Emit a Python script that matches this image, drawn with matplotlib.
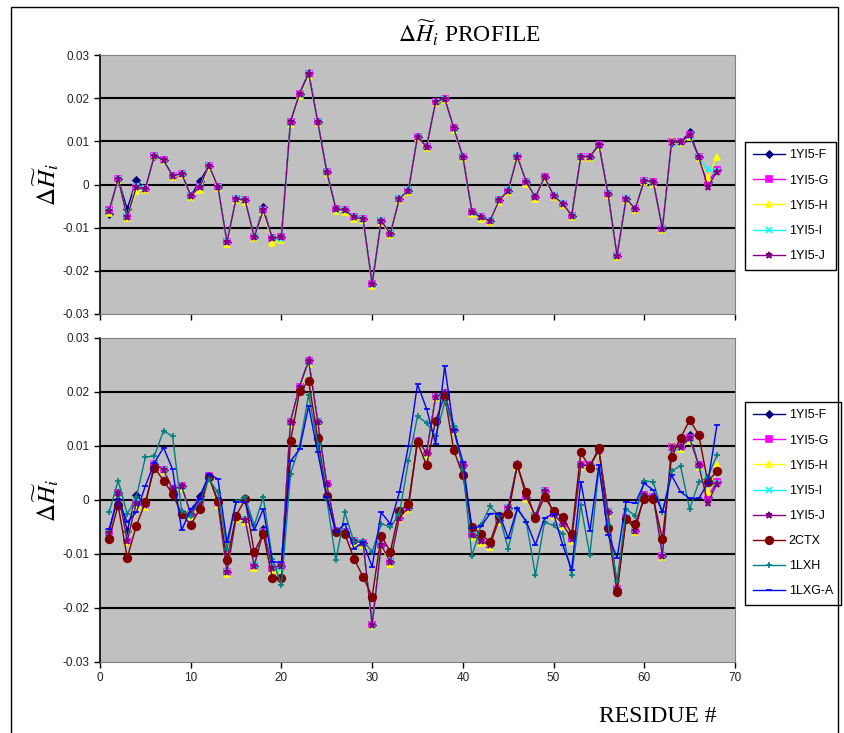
import matplotlib
matplotlib.use('Agg')
import matplotlib.pyplot as plt
from matplotlib.patches import Rectangle

plt.rcParams['mathtext.fontset'] = 'stix'

residue = list(range(1, 69))

yi5_f = [-0.0068, 0.0013, -0.0057, 0.0010, -0.0010, 0.0067, 0.0056, 0.0020, 0.0025, -0.0026,
         0.0007, 0.0044, -0.0006, -0.0134, -0.0033, -0.0037, -0.0122, -0.0053, -0.0125, -0.0122,
         0.0145, 0.0210, 0.0259, 0.0145, 0.0029, -0.0057, -0.0060, -0.0076, -0.0080, -0.0231,
         -0.0084, -0.0115, -0.0033, -0.0014, 0.0110, 0.0087, 0.0191, 0.0199, 0.0130, 0.0064,
         -0.0064, -0.0076, -0.0084, -0.0037, -0.0014, 0.0066, 0.0005, -0.0030, 0.0017, -0.0026,
         -0.0045, -0.0072, 0.0064, 0.0064, 0.0093, -0.0022, -0.0165, -0.0033, -0.0057, 0.0009,
         0.0005, -0.0103, 0.0098, 0.0098, 0.0121, 0.0064, 0.0005, 0.0033]
yi5_g = [-0.0060, 0.0013, -0.0076, -0.0006, -0.0010, 0.0067, 0.0056, 0.0020, 0.0025, -0.0026,
         -0.0006, 0.0044, -0.0006, -0.0134, -0.0033, -0.0037, -0.0122, -0.0060, -0.0125, -0.0122,
         0.0145, 0.0210, 0.0257, 0.0145, 0.0029, -0.0057, -0.0060, -0.0076, -0.0080, -0.0231,
         -0.0084, -0.0115, -0.0033, -0.0014, 0.0110, 0.0087, 0.0191, 0.0199, 0.0130, 0.0064,
         -0.0064, -0.0076, -0.0084, -0.0037, -0.0014, 0.0064, 0.0005, -0.0030, 0.0017, -0.0026,
         -0.0045, -0.0072, 0.0064, 0.0064, 0.0091, -0.0022, -0.0165, -0.0033, -0.0057, 0.0009,
         0.0005, -0.0103, 0.0098, 0.0098, 0.0114, 0.0064, 0.0005, 0.0033]
yi5_h = [-0.0065, 0.0010, -0.0078, -0.0015, -0.0013, 0.0065, 0.0054, 0.0018, 0.0022, -0.0029,
         -0.0012, 0.0040, -0.0009, -0.0137, -0.0036, -0.0040, -0.0125, -0.0063, -0.0135, -0.0128,
         0.0141, 0.0205, 0.0252, 0.0142, 0.0026, -0.0061, -0.0063, -0.0079, -0.0083, -0.0234,
         -0.0087, -0.0118, -0.0036, -0.0017, 0.0107, 0.0084, 0.0188, 0.0196, 0.0127, 0.0061,
         -0.0068, -0.0079, -0.0087, -0.0040, -0.0017, 0.0061, 0.0002, -0.0033, 0.0014, -0.0029,
         -0.0048, -0.0075, 0.0061, 0.0061, 0.0088, -0.0025, -0.0168, -0.0036, -0.0060, 0.0006,
         0.0002, -0.0106, 0.0100, 0.0095, 0.0111, 0.0061, 0.0015, 0.0064]
yi5_i = [-0.0062, 0.0012, -0.0074, -0.0004, -0.0009, 0.0066, 0.0055, 0.0019, 0.0024, -0.0027,
         -0.0005, 0.0043, -0.0005, -0.0133, -0.0032, -0.0036, -0.0121, -0.0059, -0.0124, -0.0127,
         0.0143, 0.0208, 0.0255, 0.0144, 0.0028, -0.0058, -0.0059, -0.0075, -0.0079, -0.0233,
         -0.0083, -0.0114, -0.0032, -0.0013, 0.0109, 0.0086, 0.0190, 0.0198, 0.0129, 0.0063,
         -0.0065, -0.0075, -0.0083, -0.0036, -0.0013, 0.0065, 0.0006, -0.0029, 0.0016, -0.0025,
         -0.0044, -0.0073, 0.0063, 0.0063, 0.0090, -0.0023, -0.0166, -0.0032, -0.0056, 0.0008,
         0.0004, -0.0104, 0.0097, 0.0097, 0.0113, 0.0063, 0.0035, 0.0032]
yi5_j = [-0.0061, 0.0013, -0.0076, -0.0006, -0.0010, 0.0067, 0.0056, 0.0020, 0.0025, -0.0026,
         -0.0006, 0.0044, -0.0006, -0.0134, -0.0033, -0.0037, -0.0122, -0.0060, -0.0125, -0.0122,
         0.0145, 0.0210, 0.0257, 0.0145, 0.0029, -0.0057, -0.0060, -0.0076, -0.0080, -0.0231,
         -0.0084, -0.0115, -0.0033, -0.0014, 0.0110, 0.0087, 0.0191, 0.0199, 0.0130, 0.0064,
         -0.0064, -0.0076, -0.0084, -0.0037, -0.0014, 0.0064, 0.0005, -0.0030, 0.0017, -0.0026,
         -0.0045, -0.0072, 0.0064, 0.0064, 0.0091, -0.0022, -0.0165, -0.0033, -0.0057, 0.0009,
         0.0005, -0.0103, 0.0098, 0.0098, 0.0114, 0.0064, -0.0005, 0.0030]
ctx2 = [-0.0072, -0.0010, -0.0107, -0.0048, -0.0004, 0.0060, 0.0036, 0.0011, -0.0026, -0.0046,
        -0.0017, 0.0042, -0.0001, -0.0112, -0.0029, 0.0001, -0.0096, -0.0063, -0.0145, -0.0145,
        0.0109, 0.0201, 0.0220, 0.0115, 0.0008, -0.0060, -0.0063, -0.0109, -0.0142, -0.0179,
        -0.0066, -0.0096, -0.0020, -0.0007, 0.0107, 0.0064, 0.0147, 0.0193, 0.0092, 0.0046,
        -0.0050, -0.0063, -0.0078, -0.0029, -0.0026, 0.0064, 0.0014, -0.0033, 0.0006, -0.0021,
        -0.0031, -0.0063, 0.0088, 0.0060, 0.0097, -0.0052, -0.0170, -0.0035, -0.0044, 0.0002,
        0.0002, -0.0072, 0.0079, 0.0115, 0.0148, 0.0121, 0.0033, 0.0054]
lxh = [-0.0023, 0.0036, -0.0026, 0.0005, 0.0079, 0.0082, 0.0128, 0.0118, -0.0020, -0.0030,
       0.0000, 0.0039, 0.0014, -0.0090, -0.0003, 0.0005, -0.0047, 0.0005, -0.0109, -0.0158,
       0.0048, 0.0100, 0.0195, 0.0103, 0.0002, -0.0112, -0.0023, -0.0078, -0.0075, -0.0096,
       -0.0044, -0.0050, -0.0026, 0.0072, 0.0155, 0.0143, 0.0118, 0.0181, 0.0137, 0.0057,
       -0.0104, -0.0046, -0.0012, -0.0029, -0.0090, -0.0017, -0.0041, -0.0139, -0.0041, -0.0047,
       -0.0063, -0.0139, -0.0010, -0.0102, 0.0058, -0.0047, -0.0150, -0.0017, -0.0029, 0.0036,
       0.0033, -0.0023, 0.0054, 0.0063, -0.0017, 0.0033, 0.0042, 0.0083]
lxg_a = [-0.0053, 0.0002, -0.0041, -0.0023, 0.0026, 0.0069, 0.0097, 0.0057, -0.0056, -0.0017,
         0.0002, 0.0048, 0.0039, -0.0078, -0.0004, -0.0004, -0.0056, -0.0017, -0.0115, -0.0115,
         0.0072, 0.0094, 0.0174, 0.0088, 0.0005, -0.0060, -0.0044, -0.0090, -0.0078, -0.0124,
         -0.0023, -0.0044, 0.0014, 0.0100, 0.0214, 0.0169, 0.0104, 0.0248, 0.0130, 0.0071,
         -0.0052, -0.0049, -0.0025, -0.0025, -0.0071, -0.0015, -0.0040, -0.0083, -0.0034, -0.0025,
         -0.0083, -0.0129, 0.0034, -0.0058, 0.0065, -0.0064, -0.0107, -0.0003, -0.0006, 0.0031,
         0.0018, -0.0023, 0.0046, 0.0015, 0.0003, 0.0003, 0.0031, 0.0138]

yi5_series = [
    ('1YI5-F', yi5_f, '#000080', 'D', 3.5),
    ('1YI5-G', yi5_g, '#FF00FF', 's', 4.5),
    ('1YI5-H', yi5_h, '#FFFF00', '^', 5),
    ('1YI5-I', yi5_i, '#00FFFF', 'x', 4),
    ('1YI5-J', yi5_j, '#800080', '*', 5),
]
other_series = [
    ('2CTX', ctx2, '#800000', 'o', 5.5),
    ('1LXH', lxh, '#008080', '+', 5),
    ('1LXG-A', lxg_a, '#0000FF', '_', 5),
]

yticks = [-0.03, -0.02, -0.01, 0, 0.01, 0.02, 0.03]
ytick_labels = ['-0.03', '-0.02', '-0.01', '0', '0.01', '0.02', '0.03']
W, H = 844, 733

fig = plt.figure(figsize=(W / 100, H / 100), dpi=100)
ax_top = fig.add_axes([100 / W, 1 - 314 / H, 635 / W, 259 / H])
ax_bot = fig.add_axes([100 / W, 1 - 662 / H, 635 / W, 324 / H])

fig.patches.append(Rectangle((11 / W, -0.02), 827 / W, 1.02 - 7 / H, transform=fig.transFigure,
                             fill=False, edgecolor='black', lw=1))


def style(ax):
    ax.set_facecolor('#C0C0C0')
    ax.set_xlim(0, 70)
    ax.set_ylim(-0.03, 0.03)
    ax.set_yticks(yticks)
    ax.set_yticklabels(ytick_labels)
    ax.set_xticks(range(0, 71, 10))
    for y in yticks[1:-1]:
        ax.axhline(y, color='black', lw=1.5, zorder=1)
    for s in ['top', 'right', 'bottom']:
        ax.spines[s].set_color('#808080')
    ax.spines['left'].set_color('black')
    ax.spines['left'].set_linewidth(1.2)
    ax.tick_params(direction='out', length=4, width=1, labelsize=8.5, colors='black')
    for lab in ax.get_xticklabels() + ax.get_yticklabels():
        lab.set_fontfamily('Liberation Sans')
        lab.set_color('#222222')


def draw(ax, series):
    for name, vals, color, marker, ms in series:
        ax.plot(residue, vals, color=color, marker=marker, markersize=ms, lw=1,
                markeredgewidth=1.2, label=name, zorder=3)


style(ax_top)
style(ax_bot)
ax_top.tick_params(labelbottom=False)

draw(ax_top, yi5_series)
draw(ax_bot, yi5_series + other_series)

leg_kw = dict(loc='upper left', bbox_transform=fig.transFigure, fancybox=False,
              edgecolor='black', framealpha=1, prop={'family': 'Liberation Sans', 'size': 9},
              handlelength=2.6, labelspacing=1.05, borderpad=0.6, handletextpad=0.3,
              borderaxespad=0)
l1 = ax_top.legend(bbox_to_anchor=(745 / W, 1 - 142 / H), **leg_kw)
l2 = ax_bot.legend(bbox_to_anchor=(745 / W, 1 - 402 / H), **leg_kw)
for leg in (l1, l2):
    leg.get_frame().set_linewidth(1)

fig.text(469 / W, 1 - 33 / H, r'$\Delta\widetilde{H}_i$ PROFILE', ha='center', va='center',
         family='Liberation Serif', fontsize=17)
fig.text(46 / W, 1 - 184 / H, r'$\Delta\widetilde{H}_i$', ha='center', va='center',
         rotation=90, fontsize=18)
fig.text(46 / W, 1 - 500 / H, r'$\Delta\widetilde{H}_i$', ha='center', va='center',
         rotation=90, fontsize=18)
fig.text(658 / W, 1 - 716 / H, 'RESIDUE #', ha='center', va='center',
         family='Liberation Serif', fontsize=17)

fig.savefig('out.png', dpi=100)
